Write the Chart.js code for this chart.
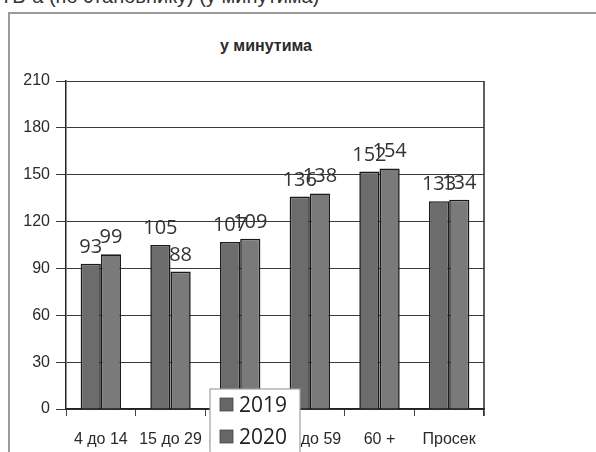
<!DOCTYPE html>
<html>
<head>
<meta charset="utf-8">
<script src="https://cdn.jsdelivr.net/npm/chart.js@4.4.1/dist/chart.umd.min.js"></script>
<style>
  html, body { margin: 0; padding: 0; background: #fff; width: 596px; height: 452px; overflow: hidden; }
  #wrap { position: relative; width: 596px; height: 452px; }
  #head { position: absolute; left: 0; top: -15px; font: 20px "Liberation Sans", Arial, sans-serif; color: #333; white-space: nowrap; }
  #box { position: absolute; left: 8px; top: 12px; width: 700px; height: 600px; border-left: 2px solid #9a9a9a; border-top: 2px solid #9a9a9a; box-sizing: border-box; }
  #title { position: absolute; left: 8px; width: 516px; top: 37px; text-align: center; font: bold 16px "Liberation Sans", Arial, sans-serif; color: #2a2a2a; }
  canvas { position: absolute; left: 0; top: 0; }
</style>
</head>
<body>
<div id="wrap">
  <div id="head">ТВ-а (по становнику) (у минутима)</div>
  <div id="box"></div>
  <div id="title">у минутима</div>
  <canvas id="c" width="596" height="452"></canvas>
</div>
<script>
const categories = ["4 до 14", "15 до 29", "30 до 44", "45 до 59", "60 +", "Просек"];
const values2019 = [93, 105, 107, 136, 152, 133];
const values2020 = [99, 88, 109, 138, 154, 134];
const seriesNames = ["2019", "2020"];
const yTicks = [0, 30, 60, 90, 120, 150, 180, 210];

const labelFont = '20px "Open Sans", "Liberation Sans", sans-serif';

const valueLabels = {
  id: 'valueLabels',
  afterDatasetsDraw(chart) {
    const ctx = chart.ctx;
    ctx.save();
    ctx.font = labelFont;
    ctx.fillStyle = '#333';
    ctx.textAlign = 'center';
    ctx.textBaseline = 'alphabetic';
    chart.data.datasets.forEach((ds, di) => {
      chart.getDatasetMeta(di).data.forEach((bar, i) => {
        ctx.fillText(String(ds.data[i]), bar.x, bar.y - 11);
      });
    });
    ctx.restore();
  }
};

const frame = {
  id: 'frame',
  afterDraw(chart) {
    const ctx = chart.ctx, a = chart.chartArea;
    ctx.save();
    ctx.strokeStyle = '#2a2a2a';
    ctx.lineWidth = 1.5;
    ctx.beginPath();
    ctx.moveTo(a.right, a.top);
    ctx.lineTo(a.right, a.bottom + 7);
    ctx.stroke();
    // legend box
    const lx = a.left + 144, ly = a.bottom - 20;
    ctx.fillStyle = '#fff';
    ctx.fillRect(lx, ly, 90, 80);
    ctx.strokeStyle = '#a0a0a0';
    ctx.lineWidth = 1.2;
    ctx.strokeRect(lx, ly, 90, 80);
    ctx.font = '21px "Open Sans", "Liberation Sans", sans-serif';
    ctx.textBaseline = 'middle';
    ctx.textAlign = 'left';
    chart.data.datasets.forEach((ds, i) => {
      const cy = ly + 16 + i * 32;
      ctx.fillStyle = '#666';
      ctx.fillRect(lx + 10, cy - 7, 13, 13);
      ctx.strokeStyle = '#444';
      ctx.lineWidth = 0.8;
      ctx.strokeRect(lx + 10, cy - 7, 13, 13);
      ctx.fillStyle = '#222';
      ctx.fillText(ds.label, lx + 29, cy + 1);
    });
    ctx.restore();
  }
};

new Chart(document.getElementById('c'), {
  type: 'bar',
  data: {
    labels: categories,
    datasets: [
      { label: seriesNames[0], data: values2019, backgroundColor: '#6c6c6c', borderColor: '#1a1a1a', borderWidth: 1.6 },
      { label: seriesNames[1], data: values2020, backgroundColor: '#7a7a7a', borderColor: '#1a1a1a', borderWidth: 1.6 }
    ]
  },
  options: {
    responsive: false,
    animation: false,
    events: [],
    layout: { padding: { left: 8, top: 81, right: 112, bottom: 0 } },
    datasets: { bar: { categoryPercentage: 0.58, barPercentage: 1.0 } },
    plugins: { legend: { display: false }, tooltip: { enabled: false }, title: { display: false } },
    scales: {
      x: {
        afterFit(s) { s.height = 43; },
        grid: { drawOnChartArea: false, drawTicks: true, tickLength: 7, color: '#444', offset: true },
        border: { color: '#222', width: 1.5 },
        ticks: { color: '#2a2a2a', font: { family: '"Liberation Sans", Arial, sans-serif', size: 16 }, padding: 14, maxRotation: 0, autoSkip: false }
      },
      y: {
        min: 0, max: 210,
        afterFit(s) { s.width = 58; },
        afterBuildTicks(s) { s.ticks = yTicks.map(v => ({ value: v })); },
        grid: { color: '#3a3a3a', lineWidth: 1, tickLength: 10 },
        border: { color: '#222', width: 1.5 },
        ticks: { color: '#2a2a2a', font: { family: '"Liberation Sans", Arial, sans-serif', size: 16 }, padding: 6 }
      }
    }
  },
  plugins: [valueLabels, frame]
});
</script>
</body>
</html>
